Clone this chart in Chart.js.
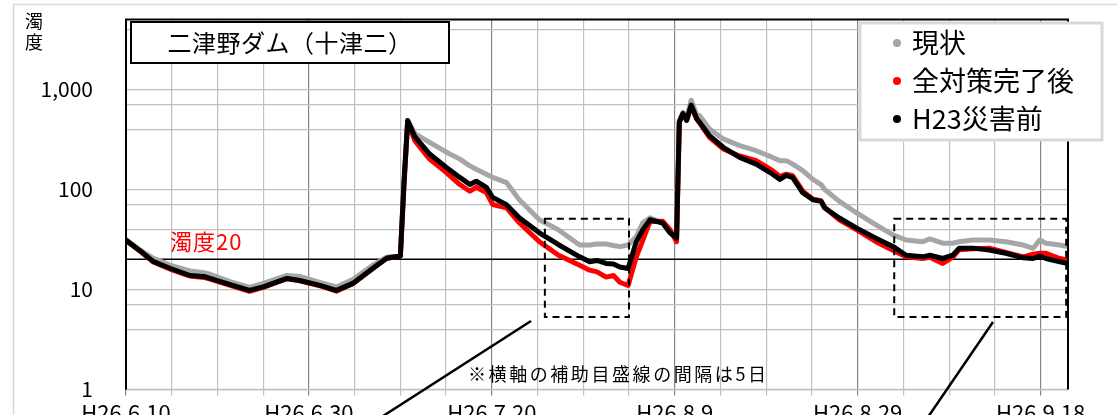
<!DOCTYPE html>
<html><head><meta charset="utf-8">
<script src="https://cdn.jsdelivr.net/npm/chart.js@4.4.1/dist/chart.umd.min.js"></script>
<style>html,body{margin:0;padding:0;background:#fff;overflow:hidden}canvas{display:block}</style>
</head><body>
<canvas id="c" width="1117" height="415"></canvas>
<script>
// ---- data (days after H26.6.10, turbidity) ----
const days = [0,1.5,3,4.8,7,8.5,9.2,11.4,13.5,15,
  17.6,19,21.2,23,24.8,27,28.5,30,30.4,30.8,
  31.6,33.2,35,36.5,37.6,38.3,39.4,40.1,41.6,43,
  45.2,47.3,49.6,50.7,51.5,52.5,53.3,54,54.9,55.8,
  56.5,57.3,58.7,59.5,60.2,60.5,60.9,61.3,61.8,62.4,
  62.7,63.8,65.3,67.1,68.9,70.7,71.5,72.2,72.9,74,
  75.1,76,76.4,78,79.9,82,83.9,85.3,87.1,87.9,
  89.3,90.4,91.1,92.6,94.4,96.2,98.1,99.2,99.9,100.6,
  102.1,103];
const genjo = [31.5,25,20.5,17.5,15.3,14.7,14.2,12,10.5,11.5,
  13.8,13.5,11.8,10.6,12.6,17.5,21,22,125,490,
  360,296,237,201,172,159,142,132,117,79,
  49.8,39.4,27.8,27.8,28.5,28.5,27.5,26.8,27.8,33.8,
  46.4,52,46,36.8,32.6,480,590,520,780,560,
  550,403,320,274,244,209,194,194,179,154,
  126,112,100,76,58.2,44.3,35,31.2,30,32,
  29,29,30,31.2,31.2,30,27.8,25.8,31.2,29,
  27.8,26.8];
const zenTaisaku = [31,24.3,18.8,16,13.6,13.2,12.7,11,9.6,10.5,
  12.8,12.2,10.9,9.6,11.4,16.2,20.5,21.6,110,470,
  305,201,148,112,96,105,93,70.5,65.7,46.4,
  30,22,17.5,15.6,15,13.3,13.8,11.8,10.95,21.2,
  31,47.9,48,39.4,30,470,570,490,690,505,
  465,332,254,216,194,154,135,142,137,96,
  80,77,66,49.8,39.4,30,24.5,21.2,20.4,21,
  18.2,21,25,25.5,25.8,23.5,21.2,22.5,23,23,
  20.4,19.6];
const h23 = [31,24.5,19,16.3,13.8,13.5,12.9,11.2,9.8,10.6,
  12.9,12.3,11,9.8,11.5,16.3,20.5,21.6,120,490,
  335,226,167,132,112,121,105,83,70.5,52,
  36.8,28,21.2,18.9,19.5,18.2,18,16.8,16.2,30,
  39.4,49.8,46,36.8,32.6,475,573,490,695,510,
  472,345,264,209,179,142,126,138,131,92.6,
  79,76,65.3,51.8,41,32.6,26.8,22,21.2,22,
  20.4,22,25.8,25.9,24.8,23,20.7,20.4,21.5,20.4,
  18.9,18.2];
const seriesNames = ['現状','全対策完了後','H23災害前'];
const xTickDays = [0,20,40,60,80,100];
const xTickLabels = ['H26.6.10','H26.6.30','H26.7.20','H26.8.9','H26.8.29','H26.9.18'];
const yLabelValues = [1,10,100,1000];
const yLabels = ['1','10','100','1,000'];
const refLevel = 20;
const titleText = '二津野ダム（十津二）';
const yTitle = ['濁','度'];
const refText = '濁度20';
const noteText = '※横軸の補助目盛線の間隔は5日';

const FONT = '"Noto Sans CJK JP","Noto Sans",sans-serif';
const colors = ['#a6a6a6','#ff0000','#000000'];
const pts = arr => days.map((d,i)=>({x:d,y:arr[i]}));

const overlay = {
  id:'overlay',
  beforeDatasetsDraw(chart){
    const {ctx, chartArea:a, scales:{y}} = chart;
    const yy = y.getPixelForValue(refLevel);
    ctx.save();
    ctx.strokeStyle='#000'; ctx.lineWidth=1.5;
    ctx.beginPath(); ctx.moveTo(a.left,yy); ctx.lineTo(a.right,yy); ctx.stroke();
    ctx.restore();
  },
  afterDraw(chart){
    const {ctx, chartArea:a, scales:{x,y}} = chart;
    ctx.save();
    // outer frame
    ctx.strokeStyle='#d9d9d9'; ctx.lineWidth=1.5;
    ctx.strokeRect(13.5,4.5,1200,500);
    // plot border
    ctx.strokeStyle='#bfbfbf'; ctx.lineWidth=1.5;
    ctx.beginPath(); ctx.moveTo(a.left,a.bottom); ctx.lineTo(a.right,a.bottom); ctx.stroke();
    ctx.strokeStyle='#000'; ctx.lineWidth=2;
    ctx.beginPath(); ctx.moveTo(a.left,a.bottom); ctx.lineTo(a.left,a.top); ctx.lineTo(a.right,a.top); ctx.lineTo(a.right,a.bottom); ctx.stroke();
    // y title
    ctx.fillStyle='#000'; ctx.font='18px '+FONT; ctx.textAlign='center'; ctx.textBaseline='middle';
    ctx.fillText(yTitle[0],34,21); ctx.fillText(yTitle[1],34,42);
    // title box
    ctx.fillStyle='#fff'; ctx.fillRect(131,22,318,41);
    ctx.strokeStyle='#000'; ctx.lineWidth=2; ctx.strokeRect(131,22,318,41);
    ctx.fillStyle='#000'; ctx.font='24px '+FONT; ctx.textAlign='center';
    ctx.letterSpacing='0.5px';
    ctx.fillText(titleText,290,43);
    ctx.letterSpacing='0px';
    // legend
    ctx.fillStyle='#fff'; ctx.fillRect(860,23,242,117);
    ctx.strokeStyle='#d9d9d9'; ctx.lineWidth=3; ctx.strokeRect(860,23,242,117);
    const ly=[43,81,119];
    ctx.font='27px '+FONT; ctx.textAlign='left';
    chart.data.datasets.forEach((ds,i)=>{
      ctx.fillStyle=ds.borderColor; ctx.beginPath(); ctx.arc(897,ly[i],4,0,Math.PI*2); ctx.fill();
      ctx.fillStyle='#000'; ctx.fillText(ds.label,912,ly[i]);
    });
    // ref label
    ctx.fillStyle='#ff0000'; ctx.font='22px '+FONT;
    ctx.letterSpacing='1px';
    ctx.fillText(refText,170,242);
    ctx.letterSpacing='0px';
    // dashed boxes
    ctx.strokeStyle='#000'; ctx.lineWidth=2; ctx.setLineDash([7,5]);
    [[45.8,55.0],[84.0,102.8]].forEach(([d0,d1])=>{
      const x0=x.getPixelForValue(d0), x1=x.getPixelForValue(d1);
      const y0=y.getPixelForValue(51), y1=y.getPixelForValue(5.3);
      ctx.strokeRect(x0,y0,x1-x0,y1-y0);
    });
    ctx.setLineDash([]);
    // leader lines
    ctx.lineWidth=2.5;
    ctx.beginPath(); ctx.moveTo(531,321); ctx.lineTo(380,418); ctx.stroke();
    ctx.beginPath(); ctx.moveTo(993,322); ctx.lineTo(926,420); ctx.stroke();
    // note
    ctx.fillStyle='#000'; ctx.font='18px '+FONT;
    const w = ctx.measureText(noteText).width;
    ctx.letterSpacing = Math.max(0,(298-w)/14)+'px';
    ctx.fillText(noteText,468,374);
    ctx.restore();
  }
};

new Chart(document.getElementById('c').getContext('2d'), {
  type:'line',
  data:{datasets: [genjo, zenTaisaku, h23].map((arr,i)=>({
    label: seriesNames[i], data: pts(arr), borderColor: colors[i], backgroundColor: colors[i],
    borderWidth: 5, pointRadius:0, tension:0, fill:false,
    borderJoinStyle:'round', borderCapStyle:'round', order: 3-i
  }))},
  options:{
    responsive:false, animation:false, devicePixelRatio:1,
    layout:{padding:{left:0,right:49,top:19.5,bottom:0}},
    plugins:{legend:{display:false}, tooltip:{enabled:false}},
    scales:{
      x:{type:'linear', min:0, max:103,
        afterBuildTicks: s => { const t=[]; for(let d=0; d<=100; d+=5) t.push({value:d}); s.ticks=t; },
        ticks:{autoSkip:false, maxRotation:0, minRotation:0, color:'#000', padding:4,
          font:{family:FONT,size:22},
          callback: v => { const i=xTickDays.indexOf(v); return i>=0?xTickLabels[i]:''; }},
        grid:{color: c => (c.tick && c.tick.value%20===0)?'#858585':'#c0c0c0', lineWidth:1.2, tickLength:6},
        border:{display:false},
        afterFit: s => { s.height=25.5; s.paddingLeft=0; s.paddingRight=0; }
      },
      y:{type:'logarithmic', min:1, max:5000,
        afterBuildTicks: s => { const t=[]; for(let p=1;p<=1000;p*=10){ for(let k=1;k<=9;k++){ const v=k*p; if(v<=5000) t.push({value:v}); } } s.ticks=t; },
        ticks:{color:'#000', padding:33, font:{family:FONT,size:21},
          callback: v => { const i=yLabelValues.indexOf(v); return i>=0?yLabels[i]:''; }},
        grid:{color:'#c0c0c0', lineWidth:1.2, drawTicks:false},
        border:{display:false},
        afterFit: s => { s.width=126; s.paddingTop=0; s.paddingBottom=0; }
      }
    }
  },
  plugins:[overlay]
});
</script>
</body></html>
